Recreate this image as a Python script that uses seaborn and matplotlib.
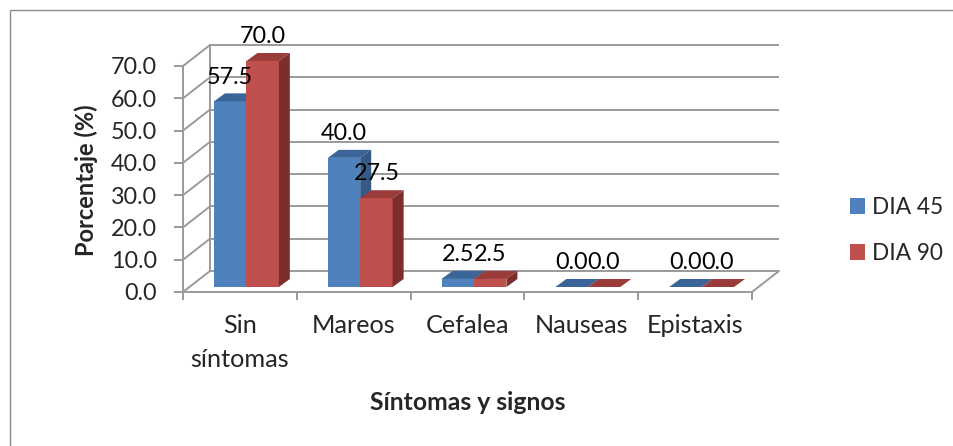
import matplotlib
matplotlib.use("Agg")
import matplotlib.pyplot as plt
import seaborn as sns
import pandas as pd
from matplotlib.patches import Polygon, Rectangle, Patch

# ---- data ----
categories = ["Sin\nsíntomas", "Mareos", "Cefalea", "Nauseas", "Epistaxis"]
series = ["DIA 45", "DIA 90"]
dia45 = [57.5, 40.0, 2.5, 0.0, 0.0]
dia90 = [70.0, 27.5, 2.5, 0.0, 0.0]
yticks = [0, 10, 20, 30, 40, 50, 60, 70]
ytick_labels = ["0.0", "10.0", "20.0", "30.0", "40.0", "50.0", "60.0", "70.0"]

df = pd.DataFrame({
    "cat": categories * 2,
    "val": dia45 + dia90,
    "serie": [series[0]] * len(categories) + [series[1]] * len(categories),
})

sns.set_theme(style="white")
plt.rcParams['font.family'] = ['Lato', 'DejaVu Sans']

front_col = {"DIA 45": "#4F81BD", "DIA 90": "#C0504D"}
top_col = {"DIA 45": "#3B6598", "DIA 90": "#9A3D3A"}
side_col = {"DIA 45": "#355A86", "DIA 90": "#7B2E2C"}
grid_col = "#9A9A9A"
FS = 16.8
FS_CAT = 18.2

W, H = 954, 446
fig = plt.figure(figsize=(W / 100, H / 100), dpi=100)
ax = fig.add_axes([183 / W, 1 - 292 / H, (752 - 183) / W, (292 - 66) / H])

sns.barplot(data=df, x="cat", y="val", hue="serie", palette=front_col,
            width=0.57, saturation=1, ax=ax, legend=False, zorder=3)
ax.set_xlim(-0.5, 4.5)
ax.set_ylim(0, 70)
for s in ax.spines.values():
    s.set_visible(False)


def off(px_dx, px_dy):
    return px_dx / (ax.bbox.width / 5.0), px_dy / (ax.bbox.height / 70.0)


# walls
Dx, Dy = off(27, 21)
lw = 1.4
for y in yticks:
    ax.plot([-0.5 + Dx, 4.5 + Dx], [y + Dy, y + Dy], color=grid_col, lw=lw,
            clip_on=False, zorder=1, solid_capstyle='butt')
    ax.plot([-0.5, -0.5 + Dx], [y, y + Dy], color=grid_col, lw=lw,
            clip_on=False, zorder=1)
ax.plot([-0.5, -0.5], [0, 70], color=grid_col, lw=lw, clip_on=False, zorder=1)
ax.plot([-0.5 + Dx] * 2, [Dy, 70 + Dy], color=grid_col, lw=lw, clip_on=False, zorder=1)
ax.plot([-0.5, 4.5], [0, 0], color=grid_col, lw=lw, clip_on=False, zorder=1)
ax.plot([4.5, 4.5 + Dx], [0, Dy], color=grid_col, lw=lw, clip_on=False, zorder=1)

# bars in pseudo 3D
fx, fy = off(6.5, 5)     # bar front plane shift
bx, by = off(11, 8)      # bar depth
n = len(categories)
for k, p in enumerate(ax.patches[:2 * n]):
    s = series[k // n]
    z = 3 if s == series[0] else 4
    p.set_x(p.get_x() + fx)
    p.set_y(p.get_y() + fy)
    p.set_zorder(z)
    p.set_edgecolor("none")
    p.set_clip_on(False)
    x0 = p.get_x(); x1 = x0 + p.get_width()
    yb = p.get_y(); yt = yb + p.get_height()
    ax.add_patch(Polygon([(x0, yt), (x1, yt), (x1 + bx, yt + by), (x0 + bx, yt + by)],
                         closed=True, fc=top_col[s], ec="none", zorder=z, clip_on=False))
    ax.add_patch(Polygon([(x1, yb), (x1, yt), (x1 + bx, yt + by), (x1 + bx, yb + by)],
                         closed=True, fc=side_col[s], ec="none", zorder=z, clip_on=False))
    ax.annotate(f"{p.get_height():.1f}", xy=((x0 + x1) / 2, yt), xytext=(0, 17.5),
                textcoords="offset points", ha="center", va="center",
                fontsize=FS, color="black", zorder=6, annotation_clip=False)

# ticks
ax.set_yticks(yticks)
ax.set_yticklabels(ytick_labels, fontsize=FS)
ax.tick_params(axis="y", which="major", length=6.5, width=lw, color=grid_col,
               direction="out", pad=12, left=True)
ax.set_xticks(range(n))
ax.set_xticklabels(categories, fontsize=FS_CAT, linespacing=1.55)
ax.tick_params(axis="x", which="major", length=0, pad=16, bottom=True)
ax.set_xticks([i - 0.5 for i in range(n + 1)], minor=True)
ax.tick_params(axis="x", which="minor", length=6, width=lw, color=grid_col,
               direction="out", bottom=True)
ax.set_xlabel("")
ax.set_ylabel("")
ax.grid(False)

fig.text(86 / W, 1 - 180 / H, "Porcentaje (%)", rotation=90, ha="center",
         va="center", fontsize=17, fontweight="bold")
fig.text(468 / W, 1 - 402 / H, "Síntomas y signos", ha="center", va="center",
         fontsize=17.8, fontweight="bold")

handles = [Patch(fc=front_col[s], ec="none") for s in series]
fig.legend(handles, series, loc="upper left", bbox_to_anchor=(850 / W, 1 - 197 / H),
           frameon=False, fontsize=16.3, handlelength=0.65, handleheight=0.65,
           handletextpad=0.32, labelspacing=1.1, borderpad=0, borderaxespad=0)

fig.add_artist(Rectangle((10 / W, -0.5), 2, 1.5 - 10 / H, transform=fig.transFigure,
                         fill=False, ec="#8C8C8C", lw=1.0))

fig.savefig("out.png", dpi=100)
